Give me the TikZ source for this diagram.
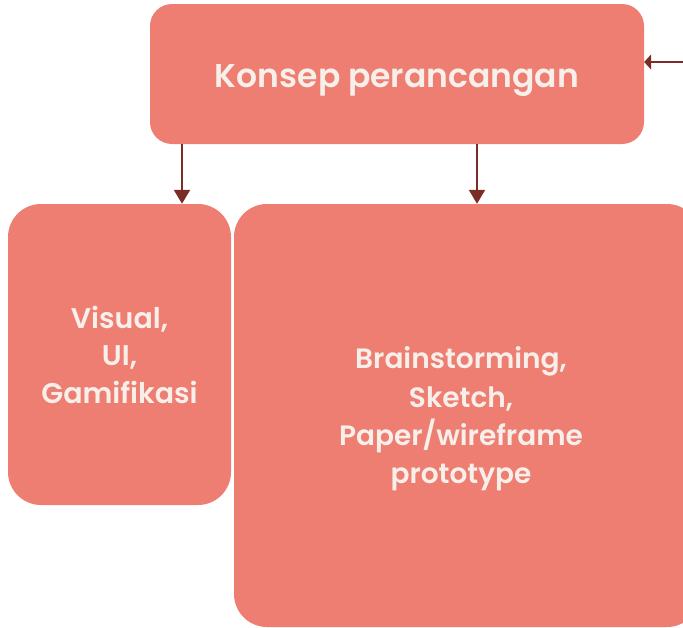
\documentclass[tikz,border=0pt]{standalone}
\usepackage{fontspec}
\setmainfont{Poppins SemiBold}
\usetikzlibrary{arrows.meta}
\definecolor{boxfill}{HTML}{EE7E72}
\definecolor{arrowcol}{HTML}{7A2D24}
\definecolor{txtcol}{HTML}{F7EFEA}
\tikzset{
  box/.style={fill=boxfill, draw=none},
  boxtext/.style={text=txtcol, align=center, inner sep=0pt},
  arr/.style={draw=arrowcol, line width=2pt, -{Triangle[length=14pt,width=16pt]}},
}
\begin{document}
\begin{tikzpicture}[x=1pt,y=-1pt]
\useasboundingbox (0,0) rectangle (683,627);
\clip (0,0) rectangle (683,627);
% boxes
\node[box, rounded corners=22pt, minimum width=494pt, minimum height=140pt] (top) at (397,74) {};
\node[box, rounded corners=33pt, minimum width=223pt, minimum height=301pt] (left) at (119.5,354.5) {};
\node[box, rounded corners=33pt, minimum width=466pt, minimum height=423pt] (right) at (467,415.5) {};
% texts
\node[boxtext, font=\fontsize{33}{40}\selectfont] (toptxt) at ([yshift=-6pt]top.center) {Konsep perancangan};
\node[boxtext, font=\fontsize{28.5}{37.5}\selectfont] (lefttxt) at (left.center) {Visual,\\UI,\\Gamifikasi};
\node[boxtext, font=\fontsize{28}{38.3}\selectfont] (righttxt) at ([xshift=-6pt,yshift=-3.5pt]right.center) {Brainstorming,\\Sketch,\\Paper/wireframe\\prototype};
% connectors
\coordinate (src) at (700,62);
\draw[draw=arrowcol, line width=2pt, -{Triangle[length=7pt,width=15pt]}] (src) -- (src -| top.east);
\draw[arr] (top.south -| 182,0) -- (left.north -| 182,0);
\draw[arr] (top.south -| 477,0) -- (right.north -| 477,0);
\end{tikzpicture}
\end{document}
